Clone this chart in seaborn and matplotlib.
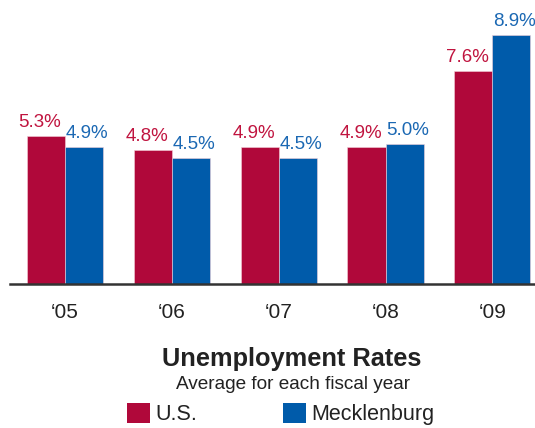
import matplotlib
matplotlib.use("Agg")
import matplotlib.pyplot as plt
import seaborn as sns
import pandas as pd
from matplotlib.patches import Patch

# data
years = ["\u201805", "\u201806", "\u201807", "\u201808", "\u201809"]
us_rate = [5.3, 4.8, 4.9, 4.9, 7.6]
meck_rate = [4.9, 4.5, 4.5, 5.0, 8.9]
series = ["U.S.", "Mecklenburg"]

bar_colors = ["#B0083A", "#005BAA"]
text_colors = ["#C0143F", "#1B68B3"]

df = pd.DataFrame({
    "year": years * 2,
    "rate": us_rate + meck_rate,
    "series": [series[0]] * len(years) + [series[1]] * len(years),
})

sns.set_style("white")
plt.rcParams["font.family"] = ["Liberation Sans", "DejaVu Sans"]

fig = plt.figure(figsize=(5.35, 4.28), dpi=100)
ax = fig.add_axes([10 / 535, 1 - 284 / 428, 524 / 535, 284 / 428])

sns.barplot(data=df, x="year", y="rate", hue="series", palette=bar_colors,
            saturation=1, width=0.712, gap=0, edgecolor="#f2d0d8",
            linewidth=0.4, legend=False, ax=ax)

ax.set_xlim(-0.515, 4.39)
ax.set_ylim(0, 284 / 28)

# value labels, pushed slightly outward from the group centre
for i, cont in enumerate(ax.containers):
    dx = -6 if i == 0 else 3
    for bar in cont:
        h = bar.get_height()
        ax.annotate(f"{h:.1f}%", (bar.get_x() + bar.get_width() / 2, h),
                    xytext=(dx, 5), textcoords="offset pixels",
                    ha="center", va="bottom", fontsize=13.5,
                    color=text_colors[i], annotation_clip=False)

for s in ["top", "left", "right"]:
    ax.spines[s].set_visible(False)
ax.spines["bottom"].set_color("#333333")
ax.spines["bottom"].set_linewidth(1.8)
ax.set_yticks([])
ax.set_xlabel("")
ax.set_ylabel("")
ax.tick_params(axis="x", length=0, pad=13.5, labelsize=15, labelcolor="#222222")

fig.text(292 / 535, 1 - 366 / 428, "Unemployment Rates", ha="center",
         va="baseline", fontsize=18.3, fontweight="bold", color="#222222")
fig.text(293 / 535, 1 - 389 / 428, "Average for each fiscal year",
         ha="center", va="baseline", fontsize=13.7, color="#222222")

handles = [Patch(facecolor=c, edgecolor="none") for c in bar_colors]
fig.legend(handles, series, loc="lower left",
           bbox_to_anchor=(127 / 535, 3 / 428), ncol=2, frameon=False,
           fontsize=15.5, handlelength=1.05, handleheight=1.05,
           handletextpad=0.25, columnspacing=4.0, borderpad=0,
           borderaxespad=0, labelcolor="#222222")

fig.savefig("out.png", dpi=100)
